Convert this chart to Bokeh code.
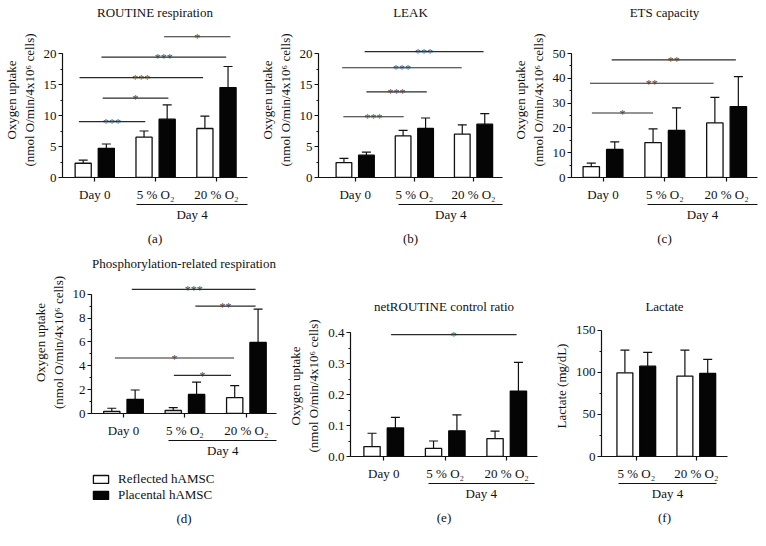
from bokeh.plotting import figure
from bokeh.models import (ColumnDataSource, FixedTicker, SingleIntervalTicker, LinearAxis,
                          Whisker, TeeHead, Title, Legend, LegendItem, Range1d,
                          NumeralTickFormatter)
from bokeh.transform import dodge
from bokeh.layouts import column, row
from bokeh.embed import file_html
from bokeh.resources import INLINE
from bokeh.core.properties import value

FONT = "Liberation Serif"
INK = "#111111"

# ---------------- data ----------------
day_cats = ["Day 0", "5 % O₂", "20 % O₂"]
lactate_cats = ["5 % O₂", "20 % O₂"]
series_names = ["Reflected hAMSC", "Placental hAMSC"]

routine_reflected = [2.3, 6.5, 7.9]
routine_reflected_sd = [0.5, 1.0, 2.0]
routine_placental = [4.7, 9.4, 14.5]
routine_placental_sd = [0.7, 2.3, 3.4]

leak_reflected = [2.4, 6.7, 7.0]
leak_reflected_sd = [0.7, 0.9, 1.5]
leak_placental = [3.6, 7.9, 8.6]
leak_placental_sd = [0.5, 1.7, 1.7]

ets_reflected = [4.4, 14.1, 22.0]
ets_reflected_sd = [1.4, 5.5, 10.3]
ets_placental = [11.3, 19.0, 28.6]
ets_placental_sd = [3.1, 9.1, 12.1]

phos_reflected = [0.17, 0.25, 1.33]
phos_reflected_sd = [0.27, 0.25, 1.0]
phos_placental = [1.19, 1.6, 5.96]
phos_placental_sd = [0.78, 1.03, 2.79]

ratio_reflected = [0.032, 0.026, 0.058]
ratio_reflected_sd = [0.043, 0.024, 0.024]
ratio_placental = [0.092, 0.083, 0.211]
ratio_placental_sd = [0.034, 0.051, 0.093]

lactate_reflected = [99.3, 95.4]
lactate_reflected_sd = [26.9, 30.8]
lactate_placental = [107.2, 98.5]
lactate_placental_sd = [16.3, 16.7]

# significance brackets: (from x, to x, level, stars)
routine_sig = [(1.14, 2.23, 22.7, "*"), (0.11, 2.16, 19.4, "***"), (-0.25, 1.78, 16.1, "***"),
               (0.13, 1.21, 12.8, "*"), (-0.26, 0.83, 9.0, "***")]
leak_sig = [(0.16, 2.17, 20.3, "***"), (-0.22, 1.80, 17.7, "***"), (0.19, 1.21, 13.8, "***"),
            (-0.20, 0.82, 9.8, "***")]
ets_sig = [(0.14, 2.15, 47.4, "**"), (-0.21, 1.79, 38.0, "**"), (-0.18, 0.81, 26.0, "*")]
phos_sig = [(0.135, 2.15, 10.4, "***"), (1.17, 2.15, 9.0, "**"), (-0.14, 1.80, 4.65, "*"),
            (0.82, 1.75, 3.2, "*")]
ratio_sig = [(0.12, 2.16, 0.393, "*")]

OXY = "Oxygen uptake\n(nmol O/min/4x10⁶ cells)"
OFF = 0.19
BW = 0.265


def style_title(t, offset):
    t.align = "center"
    t.offset = offset
    t.text_font = FONT
    t.text_font_size = "13px"
    t.text_font_style = "normal"
    t.text_color = INK


def bars(p, src, visible=True):
    r_w = p.vbar(x=dodge("idx", -OFF, range=p.x_range), top="refl", width=BW, source=src,
                 fill_color="white", line_color=INK, line_width=1.3, visible=visible)
    r_b = p.vbar(x=dodge("idx", OFF, range=p.x_range), top="plac", width=BW, source=src,
                 fill_color="#050505", line_color="#050505", line_width=1.3,
                 visible=visible)
    return r_w, r_b


def make_source(cats, refl, refl_sd, plac, plac_sd):
    return ColumnDataSource(dict(
        idx=list(range(len(cats))), refl=refl, plac=plac,
        refl_top=[v + s for v, s in zip(refl, refl_sd)],
        plac_top=[v + s for v, s in zip(plac, plac_sd)]))


def panel(title, cats, refl, refl_sd, plac, plac_sd, ylabel, yaxis_max, ystep, y_end,
          xr, day4, sig, width, height, border, letter, title_off, title_standoff,
          letter_off, fmt=None):
    lb, rb, tb, bb = border
    p = figure(width=width, height=height, output_backend="svg", toolbar_location=None,
               x_range=Range1d(*xr), y_range=Range1d(0, y_end), tools="",
               min_border_left=lb, min_border_right=rb, min_border_top=tb,
               min_border_bottom=bb, outline_line_color=None)
    p.grid.visible = False
    p.title.text = title
    p.title.standoff = title_standoff
    style_title(p.title, title_off)

    src = make_source(cats, refl, refl_sd, plac, plac_sd)
    bars(p, src)
    for off, lo, hi in [(-OFF, "refl", "refl_top"), (OFF, "plac", "plac_top")]:
        w = Whisker(base=dodge("idx", off, range=p.x_range), lower=lo, upper=hi, source=src,
                    dimension="height", line_color=INK, line_width=1.2,
                    upper_head=TeeHead(size=9, line_color=INK, line_width=1.2),
                    lower_head=None)
        p.add_layout(w)

    if sig:
        ss = ColumnDataSource(dict(
            x0=[s[0] for s in sig], x1=[s[1] for s in sig], y=[s[2] for s in sig],
            label=[s[3] for s in sig], xm=[(s[0] + s[1]) / 2 for s in sig]))
        p.segment(x0="x0", y0="y", x1="x1", y1="y", source=ss, line_color="#2a2a2a",
                  line_width=1.2)
        p.text(x="xm", y="y", text="label", source=ss, text_align="center",
               text_baseline="alphabetic", text_font=value(FONT), text_font_size="12px",
               text_color="#444444", y_offset=1)

    # x axis (categories)
    xa = p.xaxis[0]
    xa.ticker = FixedTicker(ticks=list(range(len(cats))))
    xa.major_label_overrides = {i: c for i, c in enumerate(cats)}
    xa.major_tick_out = 4
    xa.major_tick_in = 0
    xa.minor_tick_line_color = None
    xa.axis_line_width = 1.2
    xa.axis_line_color = INK
    xa.major_tick_line_color = INK
    xa.major_tick_line_width = 1.2
    xa.major_label_text_font = FONT
    xa.major_label_text_font_size = "13px"
    xa.major_label_text_color = INK
    xa.major_label_standoff = 5

    # y axis
    ya = p.yaxis[0]
    ya.ticker = SingleIntervalTicker(interval=ystep, num_minor_ticks=2)
    ya.bounds = (0, yaxis_max)
    ya.major_tick_out = 4
    ya.major_tick_in = 0
    ya.minor_tick_out = 2
    ya.minor_tick_in = 0
    ya.axis_line_width = 1.2
    ya.axis_line_color = INK
    ya.major_tick_line_color = INK
    ya.minor_tick_line_color = INK
    ya.major_label_text_font = FONT
    ya.major_label_text_font_size = "13px"
    ya.major_label_text_color = INK
    ya.major_label_standoff = 2
    ya.axis_label = ylabel
    ya.axis_label_text_font = FONT
    ya.axis_label_text_font_size = "13px"
    ya.axis_label_text_font_style = "normal"
    ya.axis_label_text_color = INK
    ya.axis_label_standoff = 4
    if fmt:
        ya.formatter = NumeralTickFormatter(format=fmt)

    # "Day 4" grouping line
    mid = round((day4[0] + day4[1]) / 2, 3)
    da = LinearAxis(bounds=day4, ticker=FixedTicker(ticks=[mid]),
                    major_label_overrides={mid: "Day 4"}, major_tick_line_color=None,
                    minor_tick_line_color=None, axis_line_color=INK, axis_line_width=1.2,
                    major_label_text_font=FONT, major_label_text_font_size="13px",
                    major_label_text_color=INK, major_label_standoff=-4)
    p.add_layout(da, "below")

    if letter:
        t = Title(text=letter, standoff=8)
        style_title(t, letter_off)
        p.add_layout(t, "below")
    return p


def legend_box(cats, refl, refl_sd, plac, plac_sd, width, height, border, letter,
               letter_off):
    lb, rb, tb, bb = border
    f = figure(width=width, height=height, output_backend="svg", toolbar_location=None,
               tools="", x_range=Range1d(-0.5, 2.5), y_range=Range1d(0, 1),
               x_axis_location=None, y_axis_location=None, outline_line_color=None,
               min_border_left=lb, min_border_right=rb, min_border_top=tb,
               min_border_bottom=bb)
    f.grid.visible = False
    src = make_source(cats, refl, refl_sd, plac, plac_sd)
    r_w, r_b = bars(f, src, visible=False)
    lg = Legend(items=[LegendItem(label=series_names[0], renderers=[r_w]),
                       LegendItem(label=series_names[1], renderers=[r_b])],
                location="top_left", orientation="vertical", border_line_color=None,
                background_fill_alpha=0, margin=0, padding=0, spacing=-7,
                glyph_width=19, glyph_height=10, label_height=10, label_standoff=8,
                label_text_font=FONT, label_text_font_size="13px", label_text_color=INK,
                inactive_fill_alpha=0)
    f.add_layout(lg)
    t = Title(text=letter, standoff=4)
    style_title(t, letter_off)
    f.add_layout(t, "below")
    return f


H1 = 252
H2 = 284
pa = panel("ROUTINE respiration", day_cats, routine_reflected, routine_reflected_sd,
           routine_placental, routine_placental_sd, OXY, 20, 5, 25.0, (-0.53, 2.51),
           (0.69, 2.51), routine_sig, 256, H1, (59, 9, 22, 75), "(a)", 0, 5, -25)
pb = panel("LEAK", day_cats, leak_reflected, leak_reflected_sd, leak_placental,
           leak_placental_sd, OXY, 20, 5, 25.0, (-0.62, 2.49), (0.74, 2.49), leak_sig,
           250, H1, (53, 4, 22, 75), "(b)", 0, 5, -29)
pc = panel("ETS capacity", day_cats, ets_reflected, ets_reflected_sd, ets_placental,
           ets_placental_sd, OXY, 50, 10, 62.5, (-0.51, 2.50), (0.72, 2.50), ets_sig,
           258, H1, (65, 7, 22, 75), "(c)", -6, 5, -25)
pd_ = panel("Phosphorylation-related respiration", day_cats, phos_reflected,
            phos_reflected_sd, phos_placental, phos_placental_sd, OXY, 10, 2, 11.9,
            (-0.52, 2.49), (0.74, 2.49), phos_sig, 285, 210, (91, 9, 18, 49), None, 0, 2,
            0)
pleg = legend_box(day_cats, phos_reflected, phos_reflected_sd, phos_placental,
                  phos_placental_sd, 285, 74, (91, 9, 9, 30), "(d)", -27)
pe = panel("netROUTINE control ratio", day_cats, ratio_reflected, ratio_reflected_sd,
           ratio_placental, ratio_placental_sd, OXY, 0.4, 0.1, 0.455, (-0.54, 2.50),
           (0.72, 2.45), ratio_sig, 265, H2, (64, 13, 63, 80), "(e)", 0, 4, -29,
           fmt="0.0")
pf = panel("Lactate", lactate_cats, lactate_reflected, lactate_reflected_sd,
           lactate_placental, lactate_placental_sd, "Lactate (mg/dL)", 150, 50, 167.3,
           (-0.58, 1.52), (-0.30, 1.34), None, 214, H2, (46, 37, 63, 80), "(f)", 0, 4, -24)

top = row(column(pa), column(pb), column(pc))
bottom = row(column(column(pd_), column(pleg)), column(pe), column(pf))
layout = column(top, bottom)
open("out.html", "w").write(file_html(layout, INLINE))
